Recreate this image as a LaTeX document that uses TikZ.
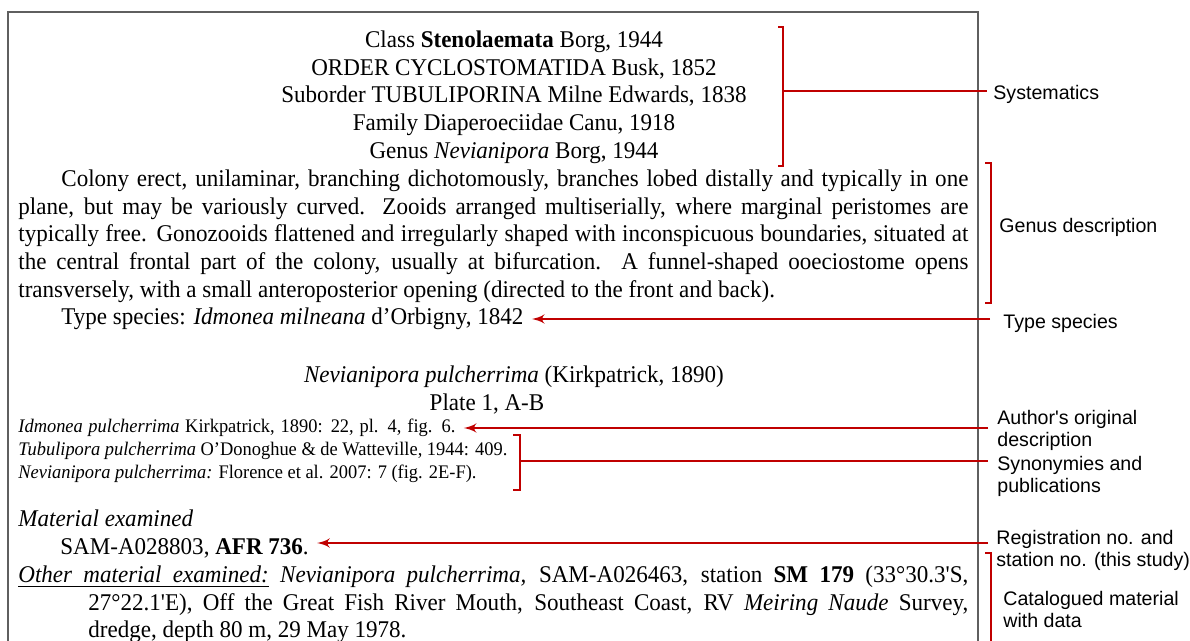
\documentclass[tikz,border=0pt]{standalone}
\usepackage{fontspec}
\setmainfont{Liberation Serif}[Ligatures=TeXOff, FakeStretch=0.96]
\setsansfont{Liberation Sans}[Ligatures=TeXOff]
\usepackage{xcolor}
\usetikzlibrary{arrows}

\definecolor{markred}{RGB}{192,0,0}
\definecolor{framegray}{RGB}{95,95,95}

% underlined word and stretchable underlined space
\newcommand\ulw[1]{\leavevmode\setbox0=\hbox{#1}\rlap{\copy0}\leaders\hrule height -1.6pt depth 2.2pt\hskip\wd0\relax}
\newcommand\ulsp{\leaders\hrule height -1.6pt depth 2.2pt\hskip\fontdimen2\font plus\fontdimen3\font minus\fontdimen4\font\relax}

\tikzset{
    txt/.style={anchor=base west, inner sep=0pt, font=\fontsize{12}{13.8}\selectfont},
    ctxt/.style={anchor=base, inner sep=0pt, font=\fontsize{12}{13.8}\selectfont},
    small/.style={anchor=base west, inner sep=0pt, font=\fontsize{9.6}{11.5}\selectfont},
    lab/.style={anchor=west, inner sep=0pt, align=left, font=\sffamily\fontsize{9.8}{11}\selectfont},
    brace/.style={draw=markred, line width=1.4pt},
    ptr/.style={draw=markred, line width=1.2pt, -latex', shorten >=4pt},
}

\begin{document}
\begin{tikzpicture}[x=0.5pt, y=-0.5pt]
        % Sizes
        \pgfmathsetmacro{\margin}{18}
        \pgfmathsetmacro{\midx}{514}
        \useasboundingbox (0,0) rectangle (1190,641);
        \draw[framegray, line width=0.75pt] (8,641) -- (8,12) -- (978,12) -- (978,641);

        % systematics
        \node[ctxt] (class) at (\midx, 47.5) {Class \textbf{Stenolaemata} Borg, 1944};
        \node[ctxt] (order) at (\midx, 75.5) {ORDER CYCLOSTOMATIDA Busk, 1852};
        \node[ctxt] (suborder) at (\midx, 103) {Suborder TUBULIPORINA Milne Edwards, 1838};
        \node[ctxt] (family) at (\midx, 131) {Family Diaperoeciidae Canu, 1918};
        \node[ctxt] (genus) at (\midx, 158.5) {Genus \textit{Nevianipora} Borg, 1944};

        % genus description
        \node[txt] (desc1) at (61, 186.5) {\makebox[453.5pt][s]{Colony erect, unilaminar, branching dichotomously, branches lobed distally and typically in one}};
        \node[txt] (desc2) at (\margin, 214.3) {\makebox[475pt][s]{plane, but may be variously curved. Zooids arranged multiserially, where marginal peristomes are}};
        \node[txt] (desc3) at (\margin, 242) {\makebox[475pt][s]{typically free. Gonozooids flattened and irregularly shaped with inconspicuous boundaries, situated at}};
        \node[txt] (desc4) at (\margin, 270) {\makebox[475pt][s]{the central frontal part of the colony, usually at bifurcation. A funnel-shaped ooeciostome opens}};
        \node[txt] (desc5) at (\margin, 297.5) {transversely, with a small anteroposterior opening (directed to the front and back).};
        \node[txt] (type) at (61, 325) {Type species: \textit{Idmonea milneana} d’Orbigny, 1842};

        % species
        \node[ctxt] (species) at (\midx, 383) {\textit{Nevianipora pulcherrima} (Kirkpatrick, 1890)};
        \node[ctxt] (plate) at (487, 411) {Plate 1, A-B};
        \node[small] (orig) at (\margin, 433) {\makebox[218.5pt][s]{\textit{Idmonea pulcherrima} Kirkpatrick, 1890: 22, pl. 4, fig. 6.}};
        \node[small] (syn1) at (\margin, 456) {\textit{Tubulipora pulcherrima} O’Donoghue \& de Watteville, 1944: 409.};
        \node[small] (syn2) at (\margin, 479) {\textit{Nevianipora pulcherrima:} Florence et al. 2007: 7 (fig. 2E-F).};
        \node[txt] (matl) at (\margin, 527) {\textit{Material examined}};
        \node[txt] (reg) at (60, 555) {SAM-A028803, \textbf{AFR 736}.};
        \node[txt] (other1) at (\margin, 583) {\makebox[475pt][s]{\itshape\ulw{Other}\ulsp\ulw{material}\ulsp\ulw{examined:} Nevianipora pulcherrima,\upshape{} SAM-A026463, station \textbf{SM 179} (33°30.3'S,}};
        \node[txt] (other2) at (88, 611) {\makebox[440pt][s]{27°22.1'E), Off the Great Fish River Mouth, Southeast Coast, RV \textit{Meiring Naude} Survey,}};
        \node[txt] (other3) at (88, 638) {dredge, depth 80 m, 29 May 1978.};

        % labels
        \node[lab] (lsys) at (993, 94) {Systematics};
        \node[lab] (lgen) at (999, 227) {Genus description};
        \node[lab] (ltype) at (1003, 323) {Type species};
        \node[lab] (lauth) at (997, 430) {Author's original\\description};
        \node[lab] (lsyn) at (997, 476) {Synonymies and\\publications};
        \node[lab] (lreg) at (996, 550) {Registration no. and\\station no. (this study)};
        \node[lab] (lcat) at (1003, 609) {Catalogued material\\with data};

        % brackets
        \coordinate (sysb) at (783, 91);
        \coordinate (synb) at (520, 461);
        \draw[brace] (778,27) -- (783,27) -- (783,166) -- (778,166);
        \draw[brace] (sysb) -- ([xshift=-3pt]sysb -| lsys.west);
        \draw[brace] (985,163) -- (991,163) -- (991,303) -- (985,303);
        \draw[brace] (513,435) -- (520,435) -- (520,490) -- (513,490);
        \draw[brace] (synb) -- ([xshift=-4.5pt]synb -| lsyn.west);
        \draw[brace] (985,553) -- (991,553) -- (991,641);

        % arrows
        \coordinate (ptype) at (990, 319);
        \coordinate (pauth) at (988, 428);
        \coordinate (preg) at (988, 543);
        \draw[ptr] (ptype) -- (ptype -| type.east);
        \draw[ptr] (pauth) -- (pauth -| orig.east);
        \draw[ptr] (preg) -- (preg -| reg.east);
\end{tikzpicture}
\end{document}
